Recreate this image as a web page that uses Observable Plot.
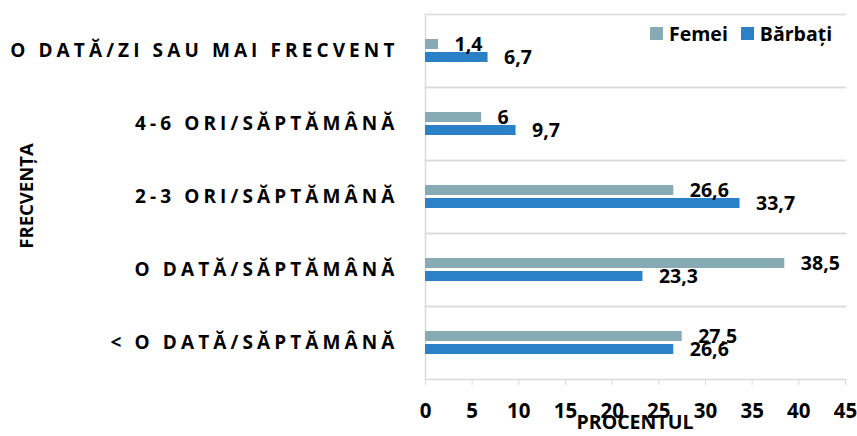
<!DOCTYPE html>
<html>
<head>
<meta charset="utf-8">
<script src="https://cdn.jsdelivr.net/npm/d3@7"></script>
<script src="https://cdn.jsdelivr.net/npm/@observablehq/plot@0.6"></script>
<style>
  body { margin: 0; background: #fff; }
  #wrap { position: relative; width: 857px; height: 436px; overflow: hidden; font-family: "Open Sans", sans-serif; }
  #wrap svg { font-family: "Open Sans", sans-serif; }
  g[aria-label="fy-axis tick label"] text { letter-spacing: 4.1px; }
  .ylab { position: absolute; left: 26px; top: 196px; transform: translate(-50%, -50%) rotate(-90deg); font-weight: bold; font-size: 18.5px; white-space: nowrap; line-height: 1; }
  .xlab { position: absolute; left: 635px; top: 412px; transform: translateX(-50%); font-weight: bold; font-size: 19.5px; white-space: nowrap; line-height: 1; }
  .legend { position: absolute; left: 650px; top: 24px; display: flex; align-items: center; font-weight: bold; font-size: 19.5px; line-height: 1; }
  .legend span.sw { display: inline-block; width: 13px; height: 13px; margin-right: 6px; }
  .legend span.it { margin-right: 13px; display: flex; align-items: center; }
</style>
</head>
<body>
<div id="wrap"></div>
<script>
const categories = ["O DATĂ/ZI SAU MAI FRECVENT", "4-6 ORI/SĂPTĂMÂNĂ", "2-3 ORI/SĂPTĂMÂNĂ", "O DATĂ/SĂPTĂMÂNĂ", "< O DATĂ/SĂPTĂMÂNĂ"];
const series = ["Femei", "Bărbați"];
const femei = [1.4, 6, 26.6, 38.5, 27.5];
const barbati = [6.7, 9.7, 33.7, 23.3, 26.6];
const colors = ["#87abb4", "#2a81c8"];
const xTicks = [0, 5, 10, 15, 20, 25, 30, 35, 40, 45];
const yTitle = "FRECVENȚA";
const xTitle = "PROCENTUL";

const data = [];
categories.forEach((c, i) => {
  data.push({cat: c, s: series[0], v: femei[i]});
  data.push({cat: c, s: series[1], v: barbati[i]});
});
const fmt = v => String(v).replace(".", ",");

const grid = "#d9d9d9";
const chart = Plot.plot({
  width: 857,
  height: 436,
  marginLeft: 425,
  marginRight: 12,
  marginTop: 13,
  marginBottom: 56,
  style: {fontFamily: "Open Sans, sans-serif", background: "white"},
  x: {domain: [0, 45], axis: null},
  y: {domain: series, paddingInner: 0.22, paddingOuter: 1.79, axis: null},
  fy: {domain: categories, padding: 0, axis: null},
  color: {domain: series, range: colors},
  marks: [
    Plot.frame({anchor: "top", stroke: grid, strokeWidth: 1.5}),
    Plot.frame({anchor: "bottom", stroke: grid, strokeWidth: 1.5}),
    Plot.ruleX([0], {stroke: grid, strokeWidth: 1.5}),
    Plot.barX(data, {fy: "cat", y: "s", x: "v", fill: "s"}),
    Plot.text(data, {fy: "cat", y: "s", x: "v", text: d => fmt(d.v), textAnchor: "start", dx: 16, fontSize: 19.5, fontWeight: "bold", fill: "black"}),
    Plot.axisFy({anchor: "left", tickSize: 0, tickPadding: 27, fontSize: 19, fontWeight: "bold", label: null, fill: "black"}),
    Plot.axisX({ticks: xTicks, tickSize: 6, tickPadding: 18, stroke: grid, fontSize: 20.5, fontWeight: "bold", label: null, fill: "black", tickFormat: d => String(d)})
  ]
});
const wrap = document.getElementById("wrap");
wrap.appendChild(chart);

const yl = document.createElement("div"); yl.className = "ylab"; yl.textContent = yTitle; wrap.appendChild(yl);
const xl = document.createElement("div"); xl.className = "xlab"; xl.textContent = xTitle; wrap.appendChild(xl);
const lg = document.createElement("div"); lg.className = "legend";
series.forEach((s, i) => {
  const it = document.createElement("span"); it.className = "it";
  const sw = document.createElement("span"); sw.className = "sw"; sw.style.background = colors[i];
  it.appendChild(sw); it.appendChild(document.createTextNode(s));
  lg.appendChild(it);
});
wrap.appendChild(lg);
</script>
</body>
</html>
